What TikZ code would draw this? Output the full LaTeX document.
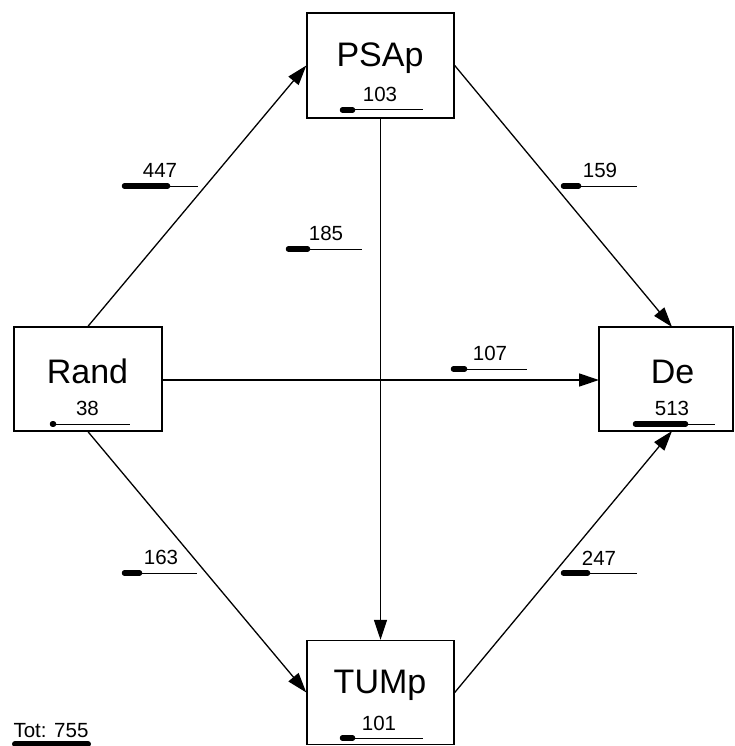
\documentclass[tikz,border=0pt]{standalone}
\usepackage{fontspec}
\setmainfont{Liberation Sans}
\usetikzlibrary{arrows.meta}
\begin{document}
\begin{tikzpicture}[x=1pt,y=-1pt,
  box/.style={draw,line width=1.4pt,inner sep=0pt},
  nodename/.style={font=\fontsize{34}{34}\selectfont,inner sep=0pt,anchor=base},
  numtext/.style={font=\fontsize{20.5}{20.5}\selectfont,inner sep=0pt,anchor=base},
  conn/.style={line width=1.3pt,-{Triangle[length=20pt,width=13pt]}},
  barthin/.style={line width=1pt},
  barthick/.style={line width=5.5pt,line cap=round}
]
\useasboundingbox (0,0) rectangle (734,746);
% boxes
\node[box,minimum width=147pt,minimum height=105pt] (psap) at (380.5,65.5) {};
\node[box,minimum width=148pt,minimum height=104pt] (rand) at (88,379) {};
\node[box,minimum width=134pt,minimum height=104pt] (de) at (666,379) {};
\node[box,minimum width=147pt,minimum height=104pt] (tump) at (380.5,692.5) {};
% names
\node[nodename] (psapt) at (380,67) {PSAp};
\node[nodename] (randt) at (87.5,383) {Rand};
\node[nodename] (det) at (672.5,383) {De};
\node[nodename] (tumpt) at (380,693) {TUMp};
% node numbers
\node[numtext] (psapn) at (380,102) {103};
\node[numtext] (randn) at (87.5,415) {38};
\node[numtext] (den) at (672,415) {513};
\node[numtext] (tumpn) at (379,730) {101};
\draw[barthin] (340,110) -- (423,110); \draw[barthick] (342.5,110) -- (352.5,110);
\draw[barthin] (50,424) -- (130,424); \draw[barthick] (52.5,424) -- (53.5,424);
\draw[barthin] (633,424) -- (715,424); \draw[barthick] (635.5,424) -- (685.5,424);
\draw[barthin] (340,738) -- (423,738); \draw[barthick] (342.5,738) -- (352.5,738);
% connector end points on De
\coordinate (deN) at (672,327);
\coordinate (deS) at (672,431);
\coordinate (deW) at (599,380);
% connectors
\draw[conn] (rand.north) -- (psap.west);
\draw[conn] (psap.east) -- (deN);
\draw[conn] (psap.south) -- (tump.north);
\draw[conn] (rand.east |- deW) -- (deW);
\draw[conn] (rand.south) -- (tump.west);
\draw[conn] (tump.east) -- (deS);
% edge labels
\node[numtext] (l447) at (160,178) {447};
\draw[barthin] (122,186) -- (198,186); \draw[barthick] (124.5,186) -- (167.5,186);
\node[numtext] (l185) at (326,240) {185};
\draw[barthin] (286,249) -- (362,249); \draw[barthick] (288.5,249) -- (307.5,249);
\node[numtext] (l159) at (600,178) {159};
\draw[barthin] (561,186) -- (637,186); \draw[barthick] (563.5,186) -- (578.5,186);
\node[numtext] (l107) at (490,360) {107};
\draw[barthin] (451,369) -- (527,369); \draw[barthick] (453.5,369) -- (464.5,369);
\node[numtext] (l163) at (161,564) {163};
\draw[barthin] (122,573) -- (197,573); \draw[barthick] (124.5,573) -- (139.5,573);
\node[numtext] (l247) at (599,565) {247};
\draw[barthin] (561,573) -- (637,573); \draw[barthick] (563.5,573) -- (587.5,573);
% total
\node[numtext] (tot) at (51,737) {Tot: 755};
\draw[barthick,line width=6pt] (15,744) -- (88,744);
\end{tikzpicture}
\end{document}
